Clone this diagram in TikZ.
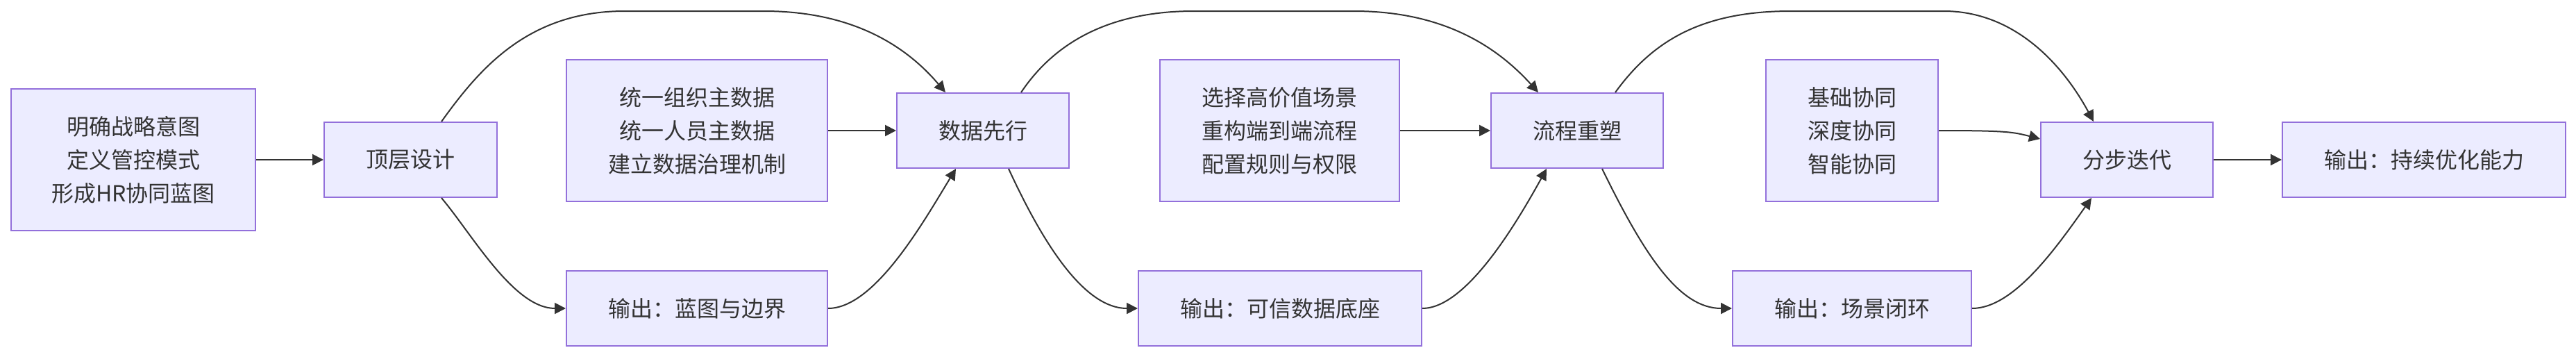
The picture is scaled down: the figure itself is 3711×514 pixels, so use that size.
\documentclass[tikz,border=0pt]{standalone}
\usepackage{fontspec}
\setmainfont{Noto Sans CJK SC}
\usetikzlibrary{arrows.meta}
\definecolor{boxfill}{HTML}{ECECFF}
\definecolor{boxborder}{HTML}{9370DB}
\definecolor{linecol}{HTML}{333333}
\definecolor{textcol}{HTML}{333333}
\begin{document}
\begin{tikzpicture}[x=1pt,y=-1pt,
  box/.style={draw=boxborder, fill=boxfill, line width=2pt, text=textcol, align=center, inner sep=0pt, font=\fontsize{32}{48}\selectfont},
  conn/.style={draw=linecol, line width=2pt, -{Triangle[length=16pt,width=16pt]}}]
\useasboundingbox (0,0) rectangle (3711,514);
\node[box, minimum width=352pt, minimum height=204pt] (A) at (192,230) {明确战略意图\\定义管控模式\\形成HR协同蓝图};
\node[box, minimum width=249pt, minimum height=108pt] (B) at (591.5,230) {顶层设计};
\node[box, minimum width=376pt, minimum height=204pt] (C) at (1004,188) {统一组织主数据\\统一人员主数据\\建立数据治理机制};
\node[box, minimum width=248pt, minimum height=108pt] (D) at (1416,188) {数据先行};
\node[box, minimum width=376pt, minimum height=108pt] (E) at (1004,444) {输出：蓝图与边界};
\node[box, minimum width=345pt, minimum height=204pt] (F) at (1843.5,188) {选择高价值场景\\重构端到端流程\\配置规则与权限};
\node[box, minimum width=248pt, minimum height=108pt] (G) at (2272,188) {流程重塑};
\node[box, minimum width=408pt, minimum height=108pt] (H) at (1844,444) {输出：可信数据底座};
\node[box, minimum width=248pt, minimum height=204pt] (I) at (2668,188) {基础协同\\深度协同\\智能协同};
\node[box, minimum width=248pt, minimum height=108pt] (J) at (3064,230) {分步迭代};
\node[box, minimum width=344pt, minimum height=108pt] (K) at (2668,444) {输出：场景闭环};
\node[box, minimum width=408pt, minimum height=108pt] (L) at (3492,230) {输出：持续优化能力};

\draw[conn] (A) -- (B);
\draw[conn] (C) -- (D);
\draw[conn] (F) -- (G);
\draw[conn] (J) -- (L);
\draw[conn] ([xshift=44.5pt]B.north) .. controls (690,100) and (760,16) .. (900,16) -- (1100,16) .. controls (1220,16) and (1300,60) .. ([xshift=-54pt]D.north);
\draw[conn] ([xshift=44.5pt]B.south) .. controls (680,337) and (740,444) .. (E.west);
\draw[conn] (E.east) .. controls (1260,444) and (1330,320) .. ([xshift=-39pt]D.south);
\draw[conn] ([xshift=55pt]D.north) .. controls (1520,60) and (1600,16) .. (1720,16) -- (1950,16) .. controls (2070,16) and (2150,60) .. ([xshift=-56pt]G.north);
\draw[conn] ([xshift=37pt]D.south) .. controls (1500,345) and (1560,444) .. (H.west);
\draw[conn] (H.east) .. controls (2110,444) and (2180,330) .. ([xshift=-44pt]G.south);
\draw[conn] ([xshift=55pt]G.north) .. controls (2380,60) and (2450,16) .. (2580,16) -- (2800,16) .. controls (2900,16) and (2970,90) .. ([xshift=-48pt]J.north);
\draw[conn] ([xshift=36pt]G.south) .. controls (2370,370) and (2420,444) .. (K.west);
\draw[conn] (I.east) .. controls (2890,188) and (2900,190) .. ([yshift=30pt]J.west);
\draw[conn] (K.east) .. controls (2900,444) and (2960,360) .. ([xshift=-51pt]J.south);
\end{tikzpicture}
\end{document}
